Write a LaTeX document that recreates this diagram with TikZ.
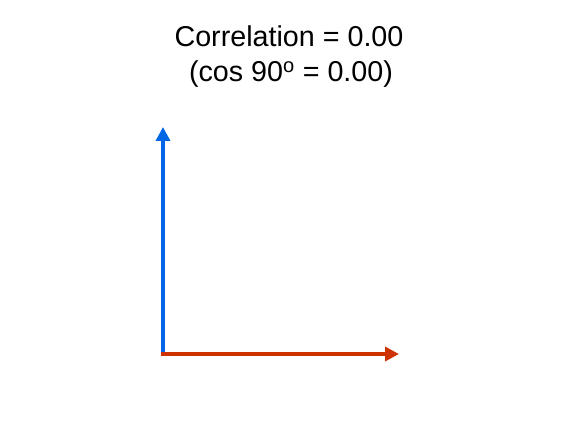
\documentclass[tikz,border=0pt]{standalone}
\usepackage{fontspec}
\setmainfont{Liberation Sans}
\usetikzlibrary{arrows.meta}
\definecolor{vblue}{RGB}{0,102,230}
\definecolor{vred}{RGB}{204,51,0}
\tikzset{
  vec/.style={line width=4.5pt, -{Triangle[length=14pt,width=14pt]}},
  title/.style={anchor=base, inner sep=0pt, font=\fontsize{28.7}{32}\selectfont}
}
\begin{document}
\begin{tikzpicture}[x=1pt,y=1pt]
\useasboundingbox (0,0) rectangle (576,432);
\node[title] (t1) at (289,385) {Correlation = 0.00};
\node[title] (t2) at (291,350) {(cos 90\textsuperscript{o} = 0.00)};
\coordinate (o) at (163,78);
\coordinate (up) at (163,305);
\coordinate (rt) at (399,78);
\draw[vec, vblue] (o) -- (up);
\draw[vec, vred] ([xshift=-2.25pt]o) -- (rt);
\end{tikzpicture}
\end{document}
